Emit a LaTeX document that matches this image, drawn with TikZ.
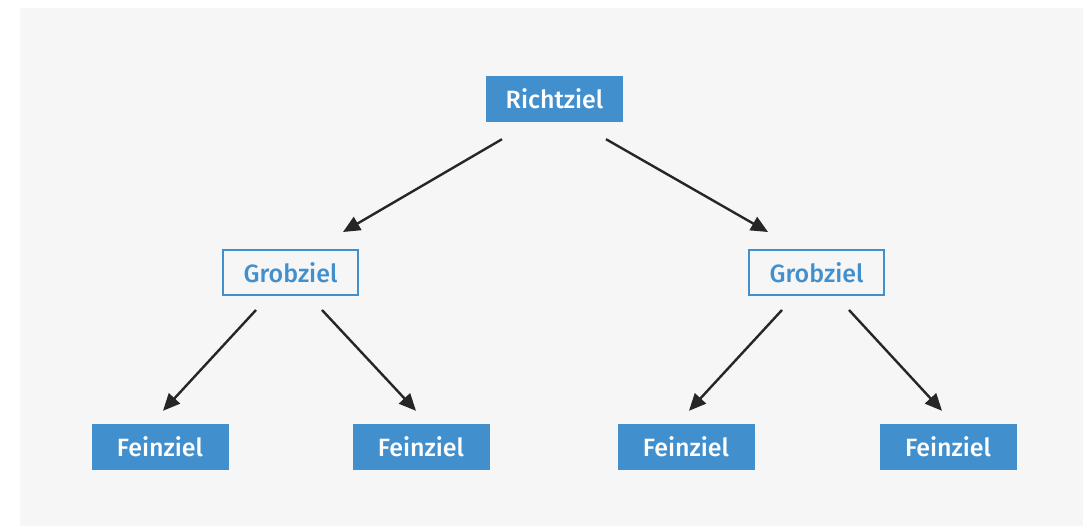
\documentclass[tikz,border=0pt]{standalone}
\usepackage{fontspec}
\setmainfont{Fira Sans}[BoldFont={Fira Sans Medium}]
\usetikzlibrary{arrows.meta,calc}
\definecolor{goalblue}{HTML}{418FCD}
\definecolor{panel}{HTML}{F6F6F6}
\definecolor{ink}{HTML}{262626}
\begin{document}
\begin{tikzpicture}[x=1pt,y=-1pt,
  goal/.style={fill=goalblue,text=white,minimum width=137pt,minimum height=46pt,
    inner sep=0pt,font=\fontsize{25}{28}\selectfont\bfseries},
  subgoal/.style={draw=goalblue,line width=2pt,fill=panel,text=goalblue,
    minimum width=135pt,minimum height=45pt,inner sep=0pt,font=\fontsize{25}{28}\selectfont\bfseries},
  link/.style={draw=ink,line width=2.4pt,-{Triangle[length=17pt,width=15pt]}}]
\useasboundingbox (0,0) rectangle (1083,526);
\fill[panel] (20,8) rectangle (1083,526);

% hierarchy of goals
\node[goal] (r) at (554.5,99) {Richtziel};
\node[subgoal] (gl) at (290.5,272.5) {Grobziel};
\node[subgoal] (gr) at (816.5,272.5) {Grobziel};
\node[goal] (f1) at (160,447) {Feinziel};
\node[goal] (f2) at (421,447) {Feinziel};
\node[goal] (f3) at (686,447) {Feinziel};
\node[goal] (f4) at (948,447) {Feinziel};

% arrows from each goal down to its sub-goals
\draw[link] ($(r.south)+(-52.5,17)$) -- ($(gl.north)+(52.5,-17)$);
\draw[link] ($(r.south)+(51.5,17)$) -- ($(gr.north)+(-48.5,-17)$);
\draw[link] ($(gl.south)+(-34.5,14)$) -- ($(f1.north)+(3,-13)$);
\draw[link] ($(gl.south)+(31.5,14)$) -- ($(f2.north)+(-5,-13)$);
\draw[link] ($(gr.south)+(-34.5,14)$) -- ($(f3.north)+(3,-13)$);
\draw[link] ($(gr.south)+(32.5,14)$) -- ($(f4.north)+(-6,-13)$);
\end{tikzpicture}
\end{document}
